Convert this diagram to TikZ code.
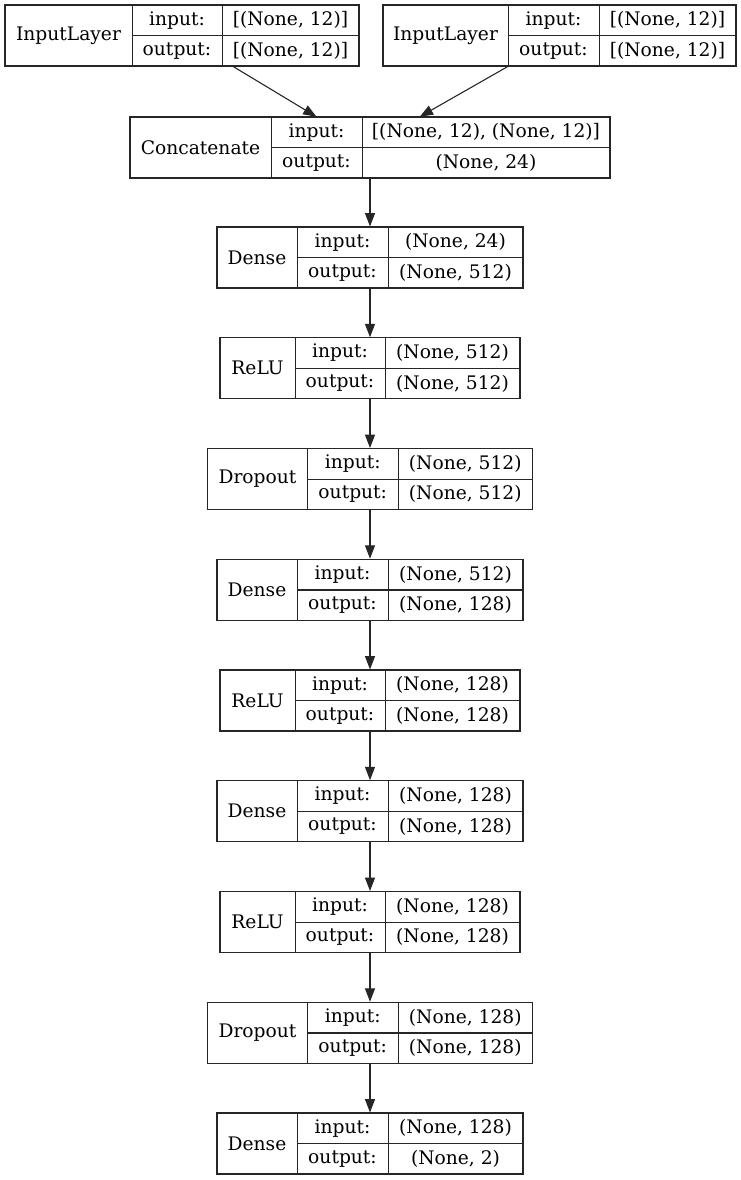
\documentclass[tikz,border=0pt]{standalone}
\usepackage{fontspec}
\setmainfont{DejaVu Serif}
\usetikzlibrary{arrows.meta}
\tikzset{
	layer/.style = {
		draw=black!85,
		line width=0.8pt,
		rectangle,
		inner sep=0pt
	},
	cell/.style = {
		inner sep=0pt,
		align=center,
		font=\fontsize{14}{16}\selectfont
	},
	divider/.style = {
		draw=black!85,
		line width=0.8pt
	},
	edge/.style = {
		-{Triangle[length=10pt, width=7.5pt]},
		draw=black!85,
		fill=black,
		line width=0.8pt
	}
}
% one keras layer: id, left, divider 1, divider 2, right, top, title, input, output
\newcommand{\kerasbox}[9]{
	\pgfmathsetlengthmacro{\boxw}{(#5-#2)*0.75pt}
	\pgfmathsetlengthmacro{\namew}{(#3-#2)*0.75pt}
	\pgfmathsetlengthmacro{\labw}{(#4-#3)*0.75pt}
	\pgfmathsetlengthmacro{\valw}{(#5-#4)*0.75pt}
	\pgfmathsetmacro{\boxmid}{#6+30.5}
	\pgfmathsetmacro{\boxbot}{#6+61}
	\node [layer, minimum width=\boxw, minimum height=45.75pt] (#1) at ({(#2+#5)/2},\boxmid) {};
	\node [cell, minimum width=\namew, minimum height=45.75pt] (#1-name) at ({(#2+#3)/2},\boxmid) {#7};
	\node [cell, minimum width=\labw, minimum height=22.875pt] (#1-inl) at ({(#3+#4)/2},{#6+15.25}) {input:};
	\node [cell, minimum width=\valw, minimum height=22.875pt] (#1-inv) at ({(#4+#5)/2},{#6+15.25}) {#8};
	\node [cell, minimum width=\labw, minimum height=22.875pt] (#1-outl) at ({(#3+#4)/2},{#6+45.75}) {output:};
	\node [cell, minimum width=\valw, minimum height=22.875pt] (#1-outv) at ({(#4+#5)/2},{#6+45.75}) {#9};
	\draw [divider] (#1-name.north east) -- (#1-name.south east);
	\draw [divider] (#1-inl.north east) -- (#1-outl.south east);
	\draw [divider] (#1-inl.south west) -- (#1-inv.south east);
}

\begin{document}
\begin{tikzpicture}[x=0.75pt, y=-0.75pt]
\useasboundingbox (0,0) rectangle (741,1180);
\kerasbox{in1}{5}{132}{222}{359}{5}{InputLayer}{[(None, 12)]}{[(None, 12)]}
\kerasbox{in2}{383}{508}{599}{736}{5}{InputLayer}{[(None, 12)]}{[(None, 12)]}
\kerasbox{cat}{130}{271}{362}{610}{117}{Concatenate}{[(None, 12), (None, 12)]}{(None, 24)}
\kerasbox{d1}{217}{297}{388}{523}{227}{Dense}{(None, 24)}{(None, 512)}
\kerasbox{r1}{220}{295}{385}{520}{337.75}{ReLU}{(None, 512)}{(None, 512)}
\kerasbox{do1}{207.5}{307.5}{398}{532.5}{448.5}{Dropout}{(None, 512)}{(None, 512)}
\kerasbox{d2}{217}{297}{388}{523}{559.25}{Dense}{(None, 512)}{(None, 128)}
\kerasbox{r2}{220}{295}{385}{520}{670}{ReLU}{(None, 128)}{(None, 128)}
\kerasbox{d3}{217}{297}{388}{523}{780.75}{Dense}{(None, 128)}{(None, 128)}
\kerasbox{r3}{220}{295}{385}{520}{891.5}{ReLU}{(None, 128)}{(None, 128)}
\kerasbox{do2}{207.5}{307.5}{398}{532.5}{1002.25}{Dropout}{(None, 128)}{(None, 128)}
\kerasbox{d4}{217}{297}{388}{523}{1113}{Dense}{(None, 128)}{(None, 2)}

% inputs into concatenate
\draw [edge] ([xshift=8.25pt]in1-outv.south west) -- (cat-inl.north);
\draw [edge] (in2-name.south east) -- ([xshift=43.5pt]cat-inv.north west);
% straight chain
\foreach \a/\b in {cat/d1, d1/r1, r1/do1, do1/d2, d2/r2, r2/d3, d3/r3, r3/do2, do2/d4}
	\draw [edge] (\a.south) -- (\b.north);
\end{tikzpicture}
\end{document}
